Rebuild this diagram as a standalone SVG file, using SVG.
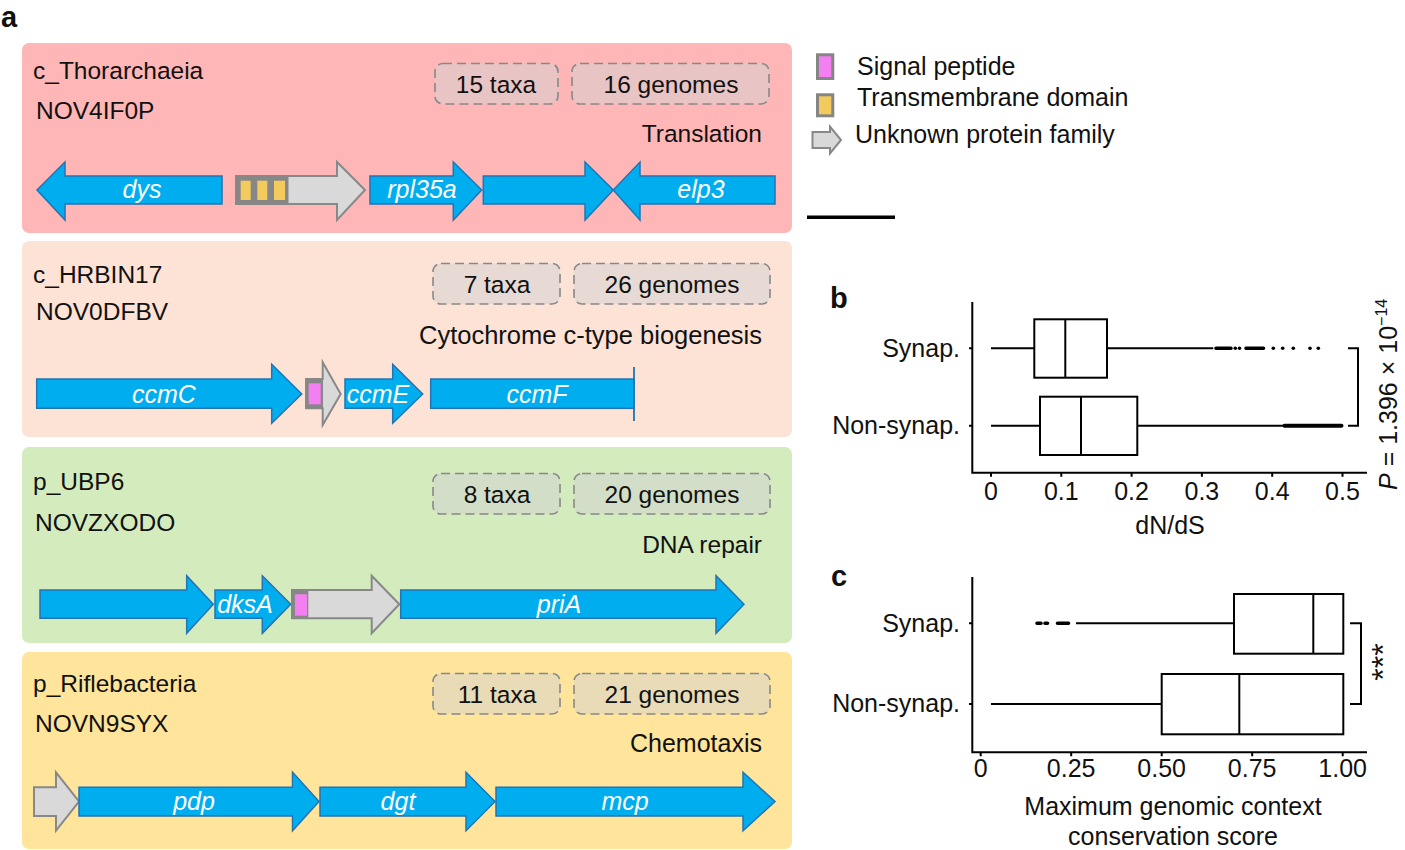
<svg xmlns="http://www.w3.org/2000/svg" width="1405" height="850" viewBox="0 0 1405 850">
<style>
text{font-family:"Liberation Sans",Arial,Helvetica,sans-serif;fill:#111}
.t{font-size:24.5px}
.lg{font-size:25px}
.lab{font-size:29px;font-weight:bold}
.g{font-size:25px;font-style:italic;fill:#fff;text-anchor:middle}
.r{text-anchor:end}
.m{text-anchor:middle}
.p{font-size:25px}
.gene{fill:#00aeef;stroke:#2473b3;stroke-width:1.5}
.unk{fill:#d9d9d9;stroke:#888;stroke-width:2}
.dbox{fill:rgba(210,210,210,0.5);stroke:#888;stroke-width:1.6;stroke-dasharray:9 5}
.dom{fill:#878787}
.sp{fill:#f47ff0}
.tm{fill:#f3cb5c}
.ax{stroke:#000;stroke-width:2;fill:none}
.bx{stroke:#000;stroke-width:2;fill:#fff}
</style>
<text class="lab" x="1" y="27">a</text>
<text class="lab" x="830" y="308">b</text>
<text class="lab" x="831" y="586">c</text>

<!-- Row 1 -->
<g id="row1">
<rect x="22" y="43" width="770" height="190" rx="7" fill="#feb6b6"/>
<text class="t" x="33" y="79">c_Thorarchaeia</text>
<text class="t" x="36" y="119">NOV4IF0P</text>
<rect class="dbox" x="435" y="63.5" width="123" height="40.5" rx="8"/>
<text class="t m" x="496" y="93">15 taxa</text>
<rect class="dbox" x="572" y="63.5" width="197" height="40.5" rx="8"/>
<text class="t m" x="671" y="93">16 genomes</text>
<text class="t r" x="762" y="142">Translation</text>
<polygon class="gene" points="37,190 65,162 65,176 222,176 222,204 65,204 65,220"/>
<text class="g" x="142" y="198">dys</text>
<polygon class="unk" points="236,176 337,176 337,162 365,190 337,220 337,204 236,204"/>
<rect class="dom" x="235" y="176" width="53.5" height="28"/>
<rect class="tm" x="240.7" y="180.7" width="10" height="19.3"/>
<rect class="tm" x="257.3" y="180.7" width="10" height="19.3"/>
<rect class="tm" x="274" y="180.7" width="11" height="19.3"/>
<polygon class="gene" points="370,176 453.3,176 453.3,162 481.7,190 453.3,220 453.3,204 370,204"/>
<text class="g" x="422" y="198">rpl35a</text>
<polygon class="gene" points="483.3,176 585,176 585,162 613.3,190 585,220 585,204 483.3,204"/>
<polygon class="gene" points="613.3,190 640,162 640,176 775,176 775,204 640,204 640,220"/>
<text class="g" x="701" y="198">elp3</text>
</g>

<!-- Row 2 -->
<g id="row2">
<rect x="22" y="241" width="770" height="196" rx="7" fill="#fde2d6"/>
<text class="t" x="33" y="283">c_HRBIN17</text>
<text class="t" x="36" y="320">NOV0DFBV</text>
<rect class="dbox" x="433" y="263.5" width="127" height="40.5" rx="8"/>
<text class="t m" x="497" y="293">7 taxa</text>
<rect class="dbox" x="574" y="263.5" width="196" height="40.5" rx="8"/>
<text class="t m" x="672" y="293">26 genomes</text>
<text class="r" x="762" y="344" style="font-size:25.5px">Cytochrome c-type biogenesis</text>
<polygon class="gene" points="36.7,379 271.7,379 271.7,364.3 301.7,394 271.7,423.3 271.7,408.3 36.7,408.3"/>
<text class="g" x="164" y="403">ccmC</text>
<polygon class="unk" points="306,379 322.7,379 322.7,362.3 340.7,394 322.7,425 322.7,408.3 306,408.3"/>
<rect class="dom" x="305.5" y="379" width="17.5" height="29.3"/>
<rect class="sp" x="308.7" y="383.3" width="12" height="21"/>
<polygon class="gene" points="345,379 392.7,379 392.7,364.3 422.7,394 392.7,423.3 392.7,408.3 345,408.3"/>
<text class="g" x="378" y="403">ccmE</text>
<rect class="gene" x="430.7" y="379" width="203.3" height="29.3"/>
<line x1="634" y1="367" x2="634" y2="421" stroke="#2473b3" stroke-width="1.8"/>
<text class="g" x="537" y="403">ccmF</text>
</g>

<!-- Row 3 -->
<g id="row3">
<rect x="22" y="447" width="770" height="196" rx="7" fill="#d3ebbd"/>
<text class="t" x="33" y="490">p_UBP6</text>
<text class="t" x="35" y="531">NOVZXODO</text>
<rect class="dbox" x="433" y="473.5" width="127" height="40.5" rx="8"/>
<text class="t m" x="497" y="503">8 taxa</text>
<rect class="dbox" x="574" y="473.5" width="196" height="40.5" rx="8"/>
<text class="t m" x="672" y="503">20 genomes</text>
<text class="t r" x="762" y="553">DNA repair</text>
<polygon class="gene" points="40,590 186.7,590 186.7,575.7 213.3,604.3 186.7,633.3 186.7,618.3 40,618.3"/>
<polygon class="gene" points="215,590 262.3,590 262.3,575.7 290.7,604.3 262.3,633.3 262.3,618.3 215,618.3"/>
<text class="g" x="245" y="613">dksA</text>
<polygon class="unk" points="292,590 371.7,590 371.7,575.7 399.3,604.3 371.7,633.3 371.7,618.3 292,618.3"/>
<rect class="dom" x="291.3" y="590" width="17" height="28.3"/>
<rect class="sp" x="295" y="594.3" width="12" height="21.4"/>
<polygon class="gene" points="400.7,590 716,590 716,575.7 744,604.3 716,633.3 716,618.3 400.7,618.3"/>
<text class="g" x="559" y="613">priA</text>
</g>

<!-- Row 4 -->
<g id="row4">
<rect x="22" y="652" width="770" height="197" rx="7" fill="#fee59b"/>
<text class="t" x="33" y="692">p_Riflebacteria</text>
<text class="t" x="35" y="732">NOVN9SYX</text>
<rect class="dbox" x="433" y="673.5" width="127" height="40.5" rx="8"/>
<text class="t m" x="497" y="703">11 taxa</text>
<rect class="dbox" x="574" y="673.5" width="196" height="40.5" rx="8"/>
<text class="t m" x="672" y="703">21 genomes</text>
<text class="r" x="762" y="752" style="font-size:25px">Chemotaxis</text>
<polygon class="unk" points="34,787.3 56,787.3 56,772.3 79,801.5 56,830.7 56,816 34,816"/>
<polygon class="gene" points="79,787.3 292.5,787.3 292.5,772.3 319,801.5 292.5,830.7 292.5,816 79,816"/>
<text class="g" x="194" y="810">pdp</text>
<polygon class="gene" points="320,787.3 466,787.3 466,772.3 495,801.5 466,830.7 466,816 320,816"/>
<text class="g" x="398" y="810">dgt</text>
<polygon class="gene" points="496,787.3 743,787.3 743,772.3 775,801.5 743,830.7 743,816 496,816"/>
<text class="g" x="625" y="810">mcp</text>
</g>

<!-- Legend -->
<g id="legend">
<rect class="sp" x="817.5" y="54.8" width="15.3" height="23.7" stroke="#858585" stroke-width="3"/>
<text class="lg" x="857" y="75">Signal peptide</text>
<rect class="tm" x="817.5" y="94.8" width="15.3" height="21" stroke="#858585" stroke-width="3"/>
<text class="lg" x="857" y="106">Transmembrane domain</text>
<polygon class="unk" points="812.5,132 830,132 830,126.5 841,140 830,153.5 830,148 812.5,148" stroke-width="2.5"/>
<text class="lg" x="855" y="143">Unknown protein family</text>
<line x1="807" y1="217.3" x2="895" y2="217.3" stroke="#000" stroke-width="3.5"/>
</g>

<!-- Panel b -->
<g id="panel-b">
<path class="ax" d="M972.3,302 V472.7 H1367 M969,348.3 H972.3 M969,425.7 H972.3 M991,472.7 v4 M1061.3,472.7 v4 M1131.6,472.7 v4 M1201.9,472.7 v4 M1272.2,472.7 v4 M1342.5,472.7 v4"/>
<text class="p r" x="960" y="357">Synap.</text>
<text class="p r" x="960" y="434">Non-synap.</text>
<g class="p m">
<text x="991" y="500">0</text>
<text x="1061.3" y="500">0.1</text>
<text x="1131.6" y="500">0.2</text>
<text x="1201.9" y="500">0.3</text>
<text x="1272.2" y="500">0.4</text>
<text x="1342.5" y="500">0.5</text>
</g>
<text class="p m" x="1170" y="534">dN/dS</text>
<path class="ax" d="M991,348.3 H1034.3 M1107,348.3 H1213.3"/>
<rect class="bx" x="1034.3" y="319.3" width="72.7" height="58.4"/>
<line class="ax" x1="1065.3" y1="319.3" x2="1065.3" y2="377.7"/>
<path d="M1216,348.3 H1231 M1246,348.3 H1263.5" stroke="#000" stroke-width="3.6" stroke-linecap="round"/>
<g fill="#000">
<circle cx="1235.3" cy="348.3" r="1.8"/><circle cx="1239.5" cy="348.3" r="1.8"/>
<circle cx="1273.3" cy="348.3" r="1.8"/><circle cx="1282.7" cy="348.3" r="1.8"/>
<circle cx="1293.3" cy="348.3" r="1.8"/><circle cx="1310" cy="348.3" r="1.8"/>
<circle cx="1318.3" cy="348.3" r="1.8"/>
</g>
<path class="ax" d="M991,425.7 H1040 M1137.3,425.7 H1284"/>
<rect class="bx" x="1040" y="396.7" width="97.3" height="58.3"/>
<line class="ax" x1="1081" y1="396.7" x2="1081" y2="455"/>
<path d="M1284.5,425.7 H1341.5" stroke="#000" stroke-width="4" stroke-linecap="round"/>
<path class="ax" d="M1348,348.3 H1358 V425.7 H1348"/>
<text class="p" transform="translate(1397,490) rotate(-90)"><tspan font-style="italic">P</tspan> = 1.396 × 10<tspan font-size="16" dy="-10">−14</tspan></text>
</g>

<!-- Panel c -->
<g id="panel-c">
<path class="ax" d="M972.3,577 V752.3 H1367 M969,623.3 H972.3 M969,704 H972.3 M980.7,752.3 v4 M1071.2,752.3 v4 M1161.7,752.3 v4 M1252.2,752.3 v4 M1342.7,752.3 v4"/>
<text class="p r" x="960" y="632">Synap.</text>
<text class="p r" x="960" y="712">Non-synap.</text>
<g class="p m">
<text x="980.7" y="777">0</text>
<text x="1071.2" y="777">0.25</text>
<text x="1161.7" y="777">0.50</text>
<text x="1252.2" y="777">0.75</text>
<text x="1342.7" y="777">1.00</text>
</g>
<text class="p m" x="1173" y="815">Maximum genomic context</text>
<text class="p m" x="1173" y="845">conservation score</text>
<path d="M1037,623.3 H1041 M1045,623.3 H1047.5 M1057.5,623.3 H1068.5" stroke="#000" stroke-width="3.6" stroke-linecap="round"/>
<path class="ax" d="M1076,623.3 H1234"/>
<rect class="bx" x="1234" y="594" width="109.3" height="59.7"/>
<line class="ax" x1="1313.3" y1="594" x2="1313.3" y2="653.7"/>
<path class="ax" d="M991,704 H1161.7"/>
<rect class="bx" x="1161.7" y="674" width="181.6" height="60.3"/>
<line class="ax" x1="1239.3" y1="674" x2="1239.3" y2="734.3"/>
<path class="ax" d="M1350,623.3 H1361 V704 H1350"/>
<text class="m" font-size="32" transform="translate(1394,662) rotate(-90)">***</text>
</g>
</svg>
